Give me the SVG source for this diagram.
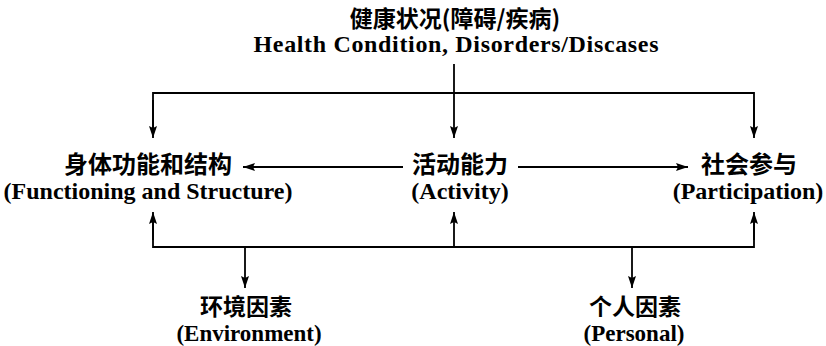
<svg xmlns="http://www.w3.org/2000/svg" width="826" height="346" viewBox="0 0 826 346">
<defs>
<marker id="ah" viewBox="0 0 12 8" refX="12" refY="4" markerWidth="12" markerHeight="8" markerUnits="userSpaceOnUse" orient="auto">
<path d="M0,0 L12,4 L0,8 L2,4 Z" fill="#000"/>
</marker>
<style>
.zh{font-family:"Noto Sans CJK SC","Noto Sans CJK JP",sans-serif;font-weight:bold;font-size:24px;fill:#000;text-anchor:middle}
.en{font-family:"Liberation Serif","Times New Roman",serif;font-weight:bold;font-size:24px;fill:#000;text-anchor:middle}
.sm{font-size:23px}
.ln{stroke:#000;stroke-width:1.8;fill:none}
.ar{stroke:#000;stroke-width:1.8;fill:none;marker-end:url(#ah)}
</style>
</defs>
<rect width="826" height="346" fill="#fff"/>
<g id="health">
<text class="zh sm" x="455" y="27">健康状况(障碍/疾病)</text>
<text class="en" x="456" y="52" textLength="405" lengthAdjust="spacing">Health Condition, Disorders/Discases</text>
</g>
<g id="body">
<text class="zh" x="148" y="173">身体功能和结构</text>
<text class="en" x="148" y="199">(Functioning and Structure)</text>
</g>
<g id="activity">
<text class="zh" x="460" y="173">活动能力</text>
<text class="en" x="460" y="199">(Activity)</text>
</g>
<g id="participation">
<text class="zh" x="749" y="173">社会参与</text>
<text class="en" x="748" y="199">(Participation)</text>
</g>
<g id="environment">
<text class="zh sm" x="246" y="315">环境因素</text>
<text class="en sm" x="249" y="341">(Environment)</text>
</g>
<g id="personal">
<text class="zh sm" x="635" y="315">个人因素</text>
<text class="en sm" x="634" y="341">(Personal)</text>
</g>
<g id="connectors">
<path class="ln" d="M153,130 V93 H754 V130"/>
<path class="ar" d="M153,100 V138"/>
<path class="ar" d="M754,100 V138"/>
<path class="ar" d="M454,64 V138"/>
<path class="ar" d="M403,167 H243"/>
<path class="ar" d="M518,167 H688"/>
<path class="ln" d="M153,220 V247 H754 V220"/>
<path class="ar" d="M153,240 V212"/>
<path class="ar" d="M454,247 V212"/>
<path class="ar" d="M754,240 V212"/>
<path class="ar" d="M245,247 V288"/>
<path class="ar" d="M632,247 V288"/>
</g>
</svg>
